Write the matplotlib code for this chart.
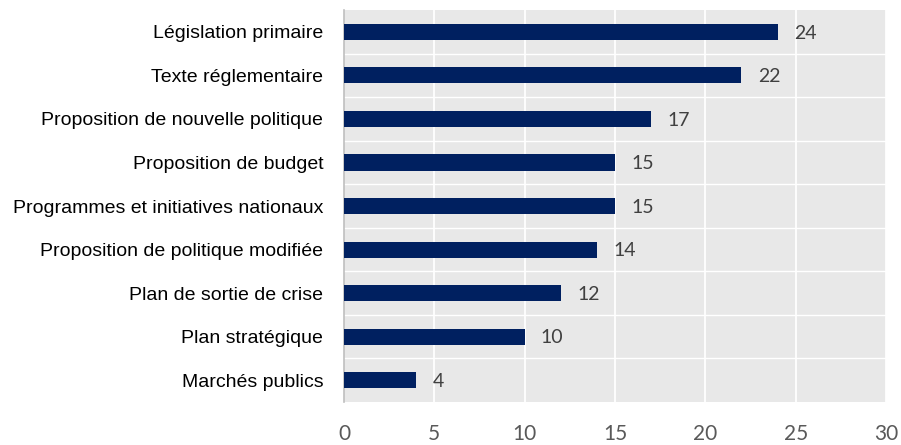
import matplotlib.pyplot as plt

categories = [
    'Législation primaire',
    'Texte réglementaire',
    'Proposition de nouvelle politique',
    'Proposition de budget',
    'Programmes et initiatives nationaux',
    'Proposition de politique modifiée',
    'Plan de sortie de crise',
    'Plan stratégique',
    'Marchés publics',
]
values = [24, 22, 17, 15, 15, 14, 12, 10, 4]
x_ticks = [0, 5, 10, 15, 20, 25, 30]

fig = plt.figure(figsize=(9.01, 4.45), dpi=100)
ax = fig.add_axes([0.3818, 0.0966, 0.6016, 0.8809])
ax.set_facecolor('#E8E8E8')

pos = list(range(len(categories)))
ax.barh(pos, values, height=0.37, color='#002060', zorder=3)
for p, v in zip(pos, values):
    ax.text(v + 0.9, p + 0.03, str(v), va='center', ha='left', fontsize=14,
            color='#404040', family='Lato')

ax.set_ylim(len(categories) - 0.5, -0.5)
ax.set_xlim(0, 30)
ax.set_yticks(pos)
ax.set_yticklabels(categories, fontsize=14, family='Liberation Sans', color='black')
ax.set_xticks(x_ticks)
ax.set_xticklabels([str(t) for t in x_ticks], fontsize=15, family='Lato', color='#595959')

# gridlines: vertical at ticks, horizontal between categories
for t in x_ticks[1:]:
    ax.axvline(t, color='white', lw=1.3, zorder=1)
for b in range(1, len(categories)):
    ax.axhline(b - 0.5, color='white', lw=1.0, zorder=1)

for s in ['top', 'right', 'bottom']:
    ax.spines[s].set_visible(False)
ax.spines['left'].set_color('#BFBFBF')
ax.spines['left'].set_linewidth(1.2)
ax.tick_params(axis='both', length=0)
ax.tick_params(axis='x', pad=16)
ax.tick_params(axis='y', pad=15)

fig.savefig('out.png', dpi=100)
